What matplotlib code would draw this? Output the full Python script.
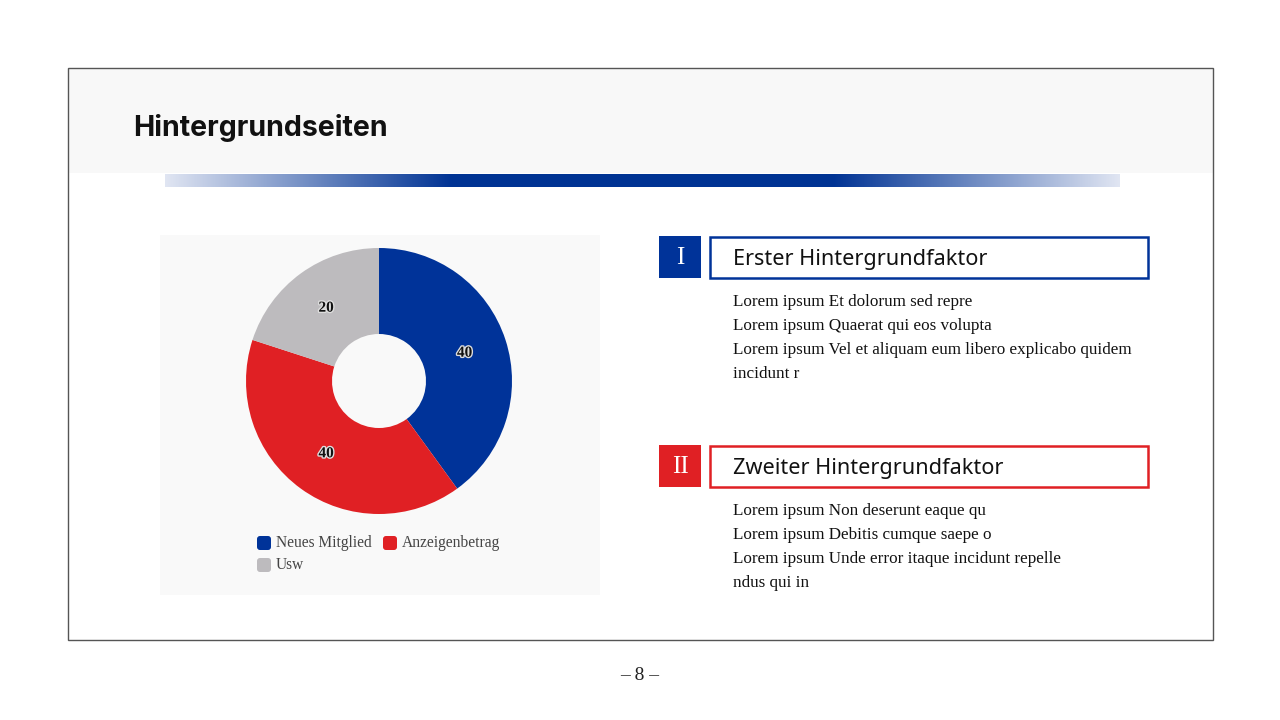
import numpy as np
import matplotlib
matplotlib.use("Agg")
import matplotlib.pyplot as plt
from matplotlib.patches import Rectangle, FancyBboxPatch
import matplotlib.patheffects as pe

# =====================================================
# Data
# =====================================================

categories = ["Neues Mitglied", "Anzeigenbetrag", "Usw"]
values = [40, 40, 20]
colors = ["#003399", "#e02024", "#bdbbbe"]

title = "Hintergrundseiten"
factor_titles = ["Erster Hintergrundfaktor", "Zweiter Hintergrundfaktor"]
factor_numerals = ["I", "II"]
factor_colors = ["#003399", "#e02024"]
factor_lines = [
    ["Lorem ipsum Et dolorum sed repre",
     "Lorem ipsum Quaerat qui eos volupta",
     "Lorem ipsum Vel et aliquam eum libero explicabo quidem",
     "incidunt r"],
    ["Lorem ipsum Non deserunt eaque qu",
     "Lorem ipsum Debitis cumque saepe o",
     "Lorem ipsum Unde error itaque incidunt repelle",
     "ndus qui in"],
]
page_label = "– 8 –"

SERIF = ["Liberation Serif", "DejaVu Serif"]

# =====================================================
# Canvas (pixel coordinates)
# =====================================================

fig = plt.figure(figsize=(12.8, 7.2), dpi=100)
fig.patch.set_facecolor("white")
bg = fig.add_axes([0, 0, 1, 1])
bg.set_xlim(0, 1280)
bg.set_ylim(720, 0)
bg.axis("off")

# slide frame and header band
bg.add_patch(Rectangle((68, 68), 1145, 105, facecolor="#f8f8f8", edgecolor="none"))
bg.add_patch(Rectangle((67.5, 68), 1145.5, 572, facecolor="none", edgecolor="#555555", lw=1))
bg.text(133, 128, title, fontsize=20.5, fontweight="bold", family="Inter",
        color="#111111", va="center", ha="left")

# gradient rule under the header
xs = np.linspace(0, 1, 600)
ramp = np.clip(np.minimum(xs / 0.30, (1.0 - xs) / 0.30), 0, 1)
light = np.array([0.88, 0.90, 0.95])
dark = np.array([0.0, 0.20, 0.58])
grad = light[None, :] * (1 - ramp[:, None]) + dark[None, :] * ramp[:, None]
bg.imshow(grad[None, :, :], extent=(165, 1120, 187, 174), aspect="auto", zorder=2)
bg.set_xlim(0, 1280)
bg.set_ylim(720, 0)

# chart panel
bg.add_patch(Rectangle((160, 235), 440, 360, facecolor="#f9f9f9", edgecolor="none"))

# =====================================================
# Donut chart
# =====================================================

cx, cy, r_out, r_in = 379, 381, 133, 47
pie_ax = fig.add_axes([(cx - r_out) / 1280, 1 - (cy + r_out) / 720,
                       2 * r_out / 1280, 2 * r_out / 720])
wedges, _ = pie_ax.pie(values, colors=colors, startangle=90, counterclock=False,
                       radius=1, wedgeprops=dict(width=1 - r_in / r_out, linewidth=0))
pie_ax.set_xlim(-1, 1)
pie_ax.set_ylim(-1, 1)
pie_ax.set_aspect("equal")
pie_ax.axis("off")

r_mid = (1 + r_in / r_out) / 2
for w, v in zip(wedges, values):
    ang = np.deg2rad((w.theta1 + w.theta2) / 2)
    pie_ax.text(r_mid * np.cos(ang), r_mid * np.sin(ang), str(v),
                ha="center", va="center", fontsize=11, family=SERIF,
                fontweight="bold", color="#111111",
                path_effects=[pe.withStroke(linewidth=2, foreground="#dddddd")])

# legend
legend_pos = [(257, 543), (383, 543), (257, 565)]
for (lx, ly), name, col in zip(legend_pos, categories, colors):
    bg.add_patch(FancyBboxPatch((lx + 1.5, ly - 5.5), 11, 11,
                                boxstyle="round,pad=1.5,rounding_size=3",
                                facecolor=col, edgecolor="none"))
    bg.text(lx + 19, ly, name, fontsize=11.2, family=SERIF, color="#444444",
            ha="left", va="center")

# =====================================================
# Right-hand text blocks
# =====================================================

for i, (num, head, lines, col) in enumerate(zip(factor_numerals, factor_titles,
                                                 factor_lines, factor_colors)):
    top = 236 + i * 209
    bg.add_patch(Rectangle((659, top), 42, 42, facecolor=col, edgecolor="none"))
    bg.text(680, top + 22, num, fontsize=18, family=SERIF, color="white",
            ha="center", va="center")
    bg.add_patch(Rectangle((710, top + 1), 438, 41, facecolor="white",
                           edgecolor=col, lw=1.8))
    bg.text(733, top + 23.5, head, fontsize=15.6, family="Noto Sans", color="#111111",
            ha="left", va="center")
    for k, line in enumerate(lines):
        bg.text(733, top + 66 + k * 24, line, fontsize=12.3, family=SERIF,
                color="#111111", ha="left", va="center")

bg.text(640, 676, page_label, fontsize=14, family=SERIF, color="#222222",
        ha="center", va="center")

fig.savefig("out.png", dpi=100)
